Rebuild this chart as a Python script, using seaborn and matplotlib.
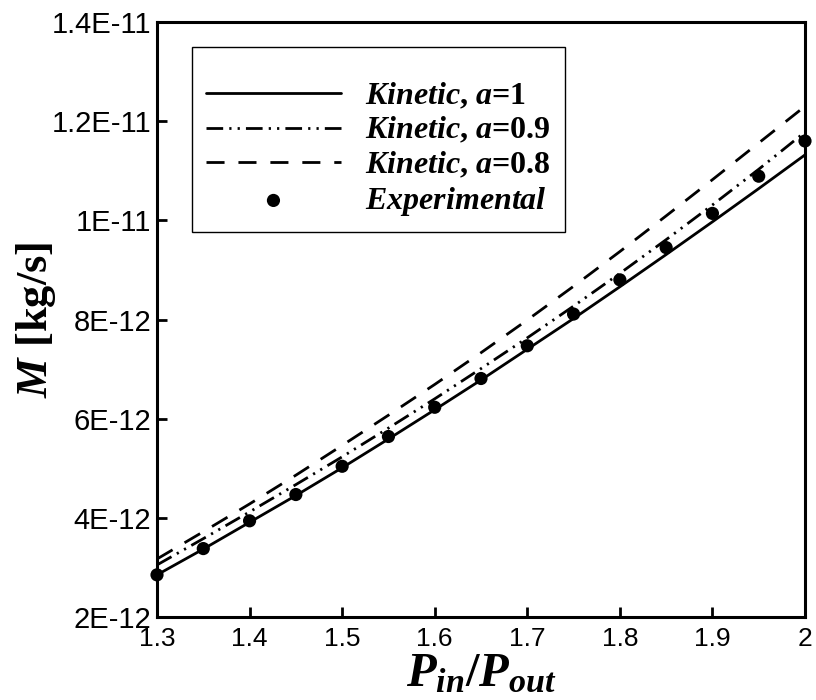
import matplotlib
matplotlib.use("Agg")
import matplotlib.pyplot as plt
import seaborn as sns
import numpy as np
import pandas as pd

# ---- data ----
pressure_ratio = [1.30, 1.35, 1.40, 1.45, 1.50, 1.55, 1.60, 1.65, 1.70,
                  1.75, 1.80, 1.85, 1.90, 1.95, 2.00]
kinetic_a1 = [2.85, 3.37, 3.91, 4.45, 5.01, 5.59, 6.18, 6.78, 7.40,
              8.02, 8.66, 9.31, 9.97, 10.64, 11.32]          # x1E-12 kg/s
kinetic_a09 = [3.05, 3.58, 4.12, 4.67, 5.23, 5.81, 6.40, 7.01, 7.63,
               8.27, 8.93, 9.61, 10.31, 11.03, 11.78]        # x1E-12 kg/s
kinetic_a08 = [3.17, 3.72, 4.28, 4.86, 5.46, 6.07, 6.69, 7.33, 7.99,
               8.67, 9.37, 10.09, 10.82, 11.56, 12.30]       # x1E-12 kg/s
experimental = [2.85, 3.38, 3.94, 4.47, 5.04, 5.64, 6.23, 6.81, 7.47,
                8.11, 8.80, 9.45, 10.14, 10.89, 11.60]       # x1E-12 kg/s
scale = 1e-12

x_ticks = [1.3, 1.4, 1.5, 1.6, 1.7, 1.8, 1.9, 2.0]
x_tick_labels = ["1.3", "1.4", "1.5", "1.6", "1.7", "1.8", "1.9", "2"]
y_ticks = [2e-12, 4e-12, 6e-12, 8e-12, 1e-11, 1.2e-11, 1.4e-11]
y_tick_labels = ["2E-12", "4E-12", "6E-12", "8E-12", "1E-11", "1.2E-11", "1.4E-11"]

labels = [r"$Kinetic$, $a$=1", r"$Kinetic$, $a$=0.9", r"$Kinetic$, $a$=0.8",
          r"$Experimental$"]

df = pd.DataFrame({
    "x": pressure_ratio,
    "a1": np.array(kinetic_a1) * scale,
    "a09": np.array(kinetic_a09) * scale,
    "a08": np.array(kinetic_a08) * scale,
    "exp": np.array(experimental) * scale,
})

sns.set_style("ticks")
plt.rcParams["font.family"] = ["Liberation Sans", "DejaVu Sans"]
plt.rcParams["text.color"] = "black"
plt.rcParams["axes.labelcolor"] = "black"
plt.rcParams["xtick.color"] = "black"
plt.rcParams["ytick.color"] = "black"
plt.rcParams["axes.edgecolor"] = "black"
plt.rcParams["mathtext.fontset"] = "custom"
plt.rcParams["mathtext.it"] = "Liberation Serif:bold:italic"
plt.rcParams["mathtext.rm"] = "Liberation Serif:bold"
plt.rcParams["mathtext.bf"] = "Liberation Serif:bold"

fig = plt.figure(figsize=(8.16, 7.0), dpi=100)
ax = fig.add_axes([157 / 816, 1 - 617 / 700, (805 - 157) / 816, (617 - 22) / 700])

lw = 2.0
sns.lineplot(data=df, x="x", y="a1", ax=ax, color="black", lw=lw,
             linestyle="-", label=labels[0])
sns.lineplot(data=df, x="x", y="a09", ax=ax, color="black", lw=lw,
             linestyle=(0, (6, 2.2, 0.8, 2.2, 0.8, 2.2)), label=labels[1])
sns.lineplot(data=df, x="x", y="a08", ax=ax, color="black", lw=lw,
             linestyle=(0, (6.5, 5.0)), label=labels[2])
sns.scatterplot(data=df, x="x", y="exp", ax=ax, color="black", s=90,
                edgecolor="none", linewidth=0, clip_on=False, zorder=5,
                label=labels[3])

ax.set_xlim(1.3, 2.0)
ax.set_ylim(2e-12, 1.4e-11)
ax.set_xticks(x_ticks)
ax.set_xticklabels(x_tick_labels, fontsize=19)
ax.set_yticks(y_ticks)
ax.set_yticklabels(y_tick_labels, fontsize=21)
ax.tick_params(axis="both", direction="in", length=7, width=2,
               top=False, right=False, pad=4, colors="black")
ax.tick_params(axis="x", pad=7.5)
for sp in ax.spines.values():
    sp.set_linewidth(2.2)
    sp.set_color("black")
    sp.set_visible(True)

ax.set_xlabel(r"$P_{in}/P_{out}$", fontsize=35, family="Liberation Serif",
              fontweight="bold")
ax.xaxis.set_label_coords(0.5, -(652 - 617) / 595)
ax.set_ylabel(r"$M$ [kg/s]", fontsize=32, family="Liberation Serif",
              fontweight="bold")
ax.yaxis.set_label_coords((58 - 157) / 648, 0.5)

handles, _ = ax.get_legend_handles_labels()
leg = ax.legend(handles, labels, loc="upper left",
                bbox_to_anchor=(192 / 816, 1 - 47 / 700),
                bbox_transform=fig.transFigure, borderaxespad=0,
                prop={"family": "Liberation Serif", "weight": "bold", "size": 23},
                title=" ", title_fontsize=12,
                handlelength=4.2, handletextpad=0.78, labelspacing=0.14,
                borderpad=0.45, fancybox=False, framealpha=1,
                edgecolor="black", scatterpoints=1)
leg.get_frame().set_linewidth(1.0)

fig.savefig("out.png", dpi=100)
